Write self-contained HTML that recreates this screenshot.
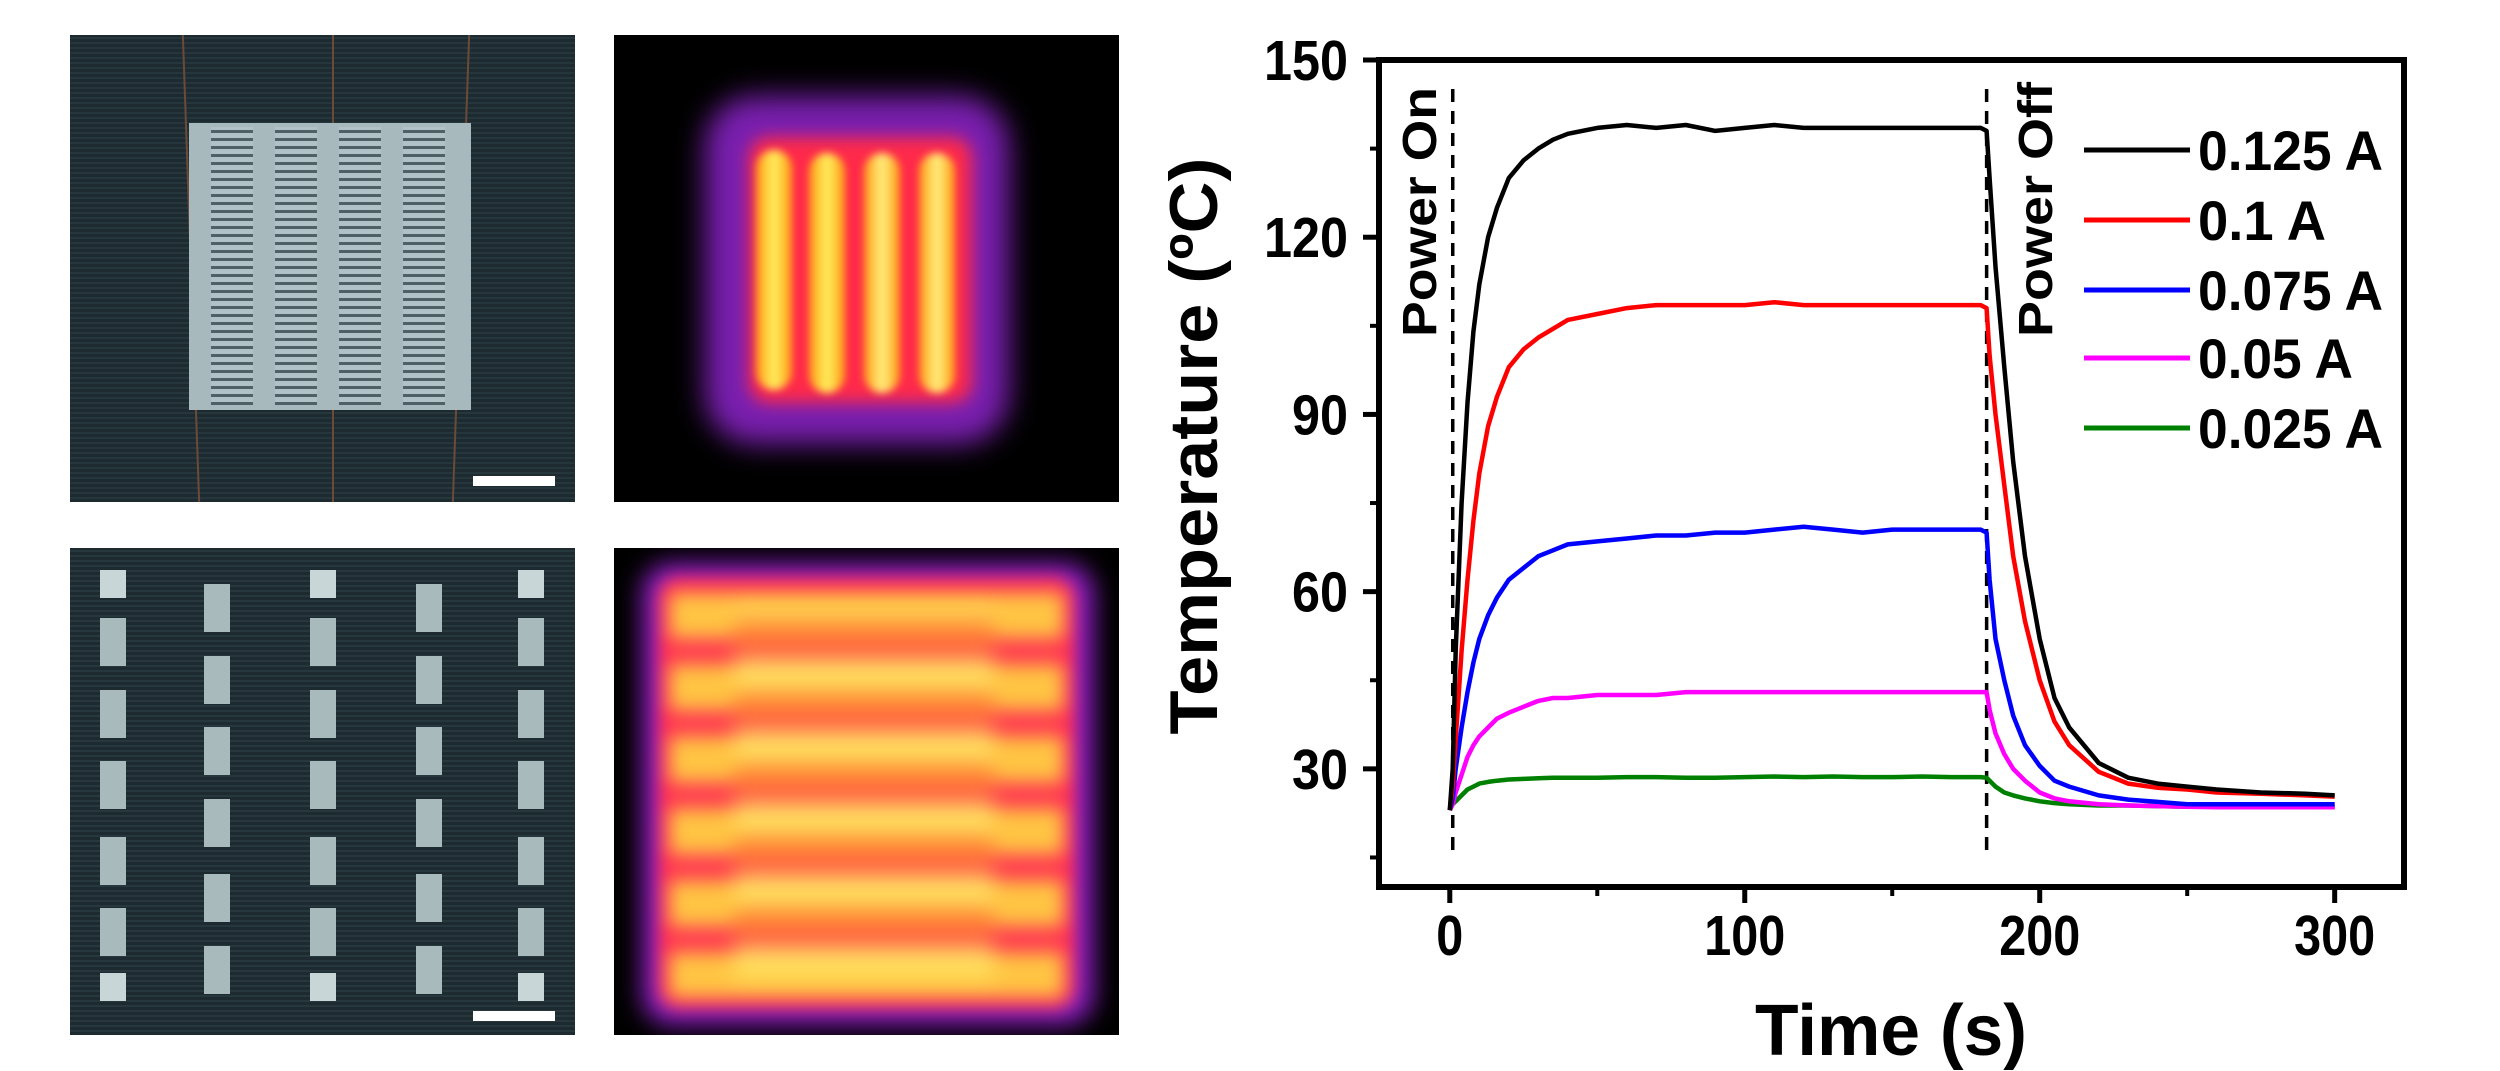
<!DOCTYPE html>
<html><head><meta charset="utf-8">
<style>
html,body{margin:0;padding:0;background:#fff;}
body{width:2500px;height:1071px;position:relative;overflow:hidden;font-family:"Liberation Sans",sans-serif;}
.panel{position:absolute;overflow:hidden;}
</style></head>
<body>
<div class="panel" style="left:70px;top:35px;width:505px;height:467px;background:repeating-linear-gradient(0deg,#1d2b31 0 3px,#26363d 3px 5px);">
  <div style="position:absolute;left:120px;top:0;width:2px;height:467px;background:#6b4a38;transform:rotate(-2deg);"></div>
  <div style="position:absolute;left:262px;top:0;width:2px;height:467px;background:#6b4a38;"></div>
  <div style="position:absolute;left:390px;top:0;width:2px;height:467px;background:#6b4a38;transform:rotate(2deg);"></div>
  <div style="position:absolute;left:119px;top:88px;width:282px;height:287px;background:#a7b9bd;">
    <div style="position:absolute;left:22px;top:4px;width:42px;height:278px;background:repeating-linear-gradient(0deg,#3b4a50 0 3px,#b3c4c8 3px 8px);opacity:.8"></div>
    <div style="position:absolute;left:86px;top:4px;width:42px;height:278px;background:repeating-linear-gradient(0deg,#3b4a50 0 3px,#b3c4c8 3px 8px);opacity:.8"></div>
    <div style="position:absolute;left:150px;top:4px;width:42px;height:278px;background:repeating-linear-gradient(0deg,#3b4a50 0 3px,#b3c4c8 3px 8px);opacity:.8"></div>
    <div style="position:absolute;left:214px;top:4px;width:42px;height:278px;background:repeating-linear-gradient(0deg,#3b4a50 0 3px,#b3c4c8 3px 8px);opacity:.8"></div>
  </div>
  <div style="position:absolute;left:403px;top:441px;width:82px;height:10px;background:#fff;"></div>
</div>

<div class="panel" style="left:614px;top:35px;width:505px;height:467px;background:#000;">
  <div style="position:absolute;left:91px;top:61px;width:304px;height:348px;border-radius:50px;background:#7a1fb0;filter:blur(14px);"></div>
  <div style="position:absolute;left:135px;top:102px;width:223px;height:266px;border-radius:20px;background:#ff2a4a;filter:blur(8px);"></div>
  <div style="position:absolute;left:142px;top:115px;width:36px;height:240px;border-radius:18px;background:linear-gradient(90deg,#ff9a10,#fff060,#ff9a10);filter:blur(4px);"></div>
  <div style="position:absolute;left:195px;top:118px;width:36px;height:240px;border-radius:18px;background:linear-gradient(90deg,#ff9a10,#fff060,#ff9a10);filter:blur(4px);"></div>
  <div style="position:absolute;left:250px;top:118px;width:36px;height:240px;border-radius:18px;background:linear-gradient(90deg,#ff9a10,#fff080,#ff9a10);filter:blur(4px);"></div>
  <div style="position:absolute;left:305px;top:118px;width:36px;height:240px;border-radius:18px;background:linear-gradient(90deg,#ff9a10,#fff080,#ff9a10);filter:blur(4px);"></div>
</div>

<div class="panel" id="bl" style="left:70px;top:548px;width:505px;height:487px;background:repeating-linear-gradient(0deg,#1d2b31 0 3px,#27373e 3px 5px);">
  <div style="position:absolute;left:403px;top:463px;width:82px;height:10px;background:#fff;"></div>
</div>

<div class="panel" style="left:614px;top:548px;width:505px;height:487px;background:#000;">
  <div style="position:absolute;left:28px;top:15px;width:452px;height:462px;border-radius:30px;background:#8a1fc0;filter:blur(12px);"></div>
  <div style="position:absolute;left:45px;top:30px;width:415px;height:430px;border-radius:20px;background:#ff2a55;filter:blur(8px);"></div>
  <div style="position:absolute;left:55px;top:40px;width:395px;height:410px;background:repeating-linear-gradient(0deg,#ffe040 0 45px,#ff4050 45px 72px);filter:blur(9px);opacity:.85"></div>
  <div style="position:absolute;left:120px;top:60px;width:260px;height:370px;background:repeating-linear-gradient(0deg,#fff070 0 35px,#ff7030 35px 72px);filter:blur(10px);opacity:.6"></div>
</div>

<svg id="chart" width="2500" height="1071" style="position:absolute;left:0;top:0;" xmlns="http://www.w3.org/2000/svg"></svg>

<script>
const times   = [0,1,2,4,6,8,10,13,16,20,25,30,35,40,50,60,70,80,90,100,110,120,130,140,150,160,170,180,182,183,185,188,191,195,200,205,210,220,230,240,250,260,275,290,300];
const s0125   = [23,30,50,75,92,104,112,120,125,130,133,135,136.5,137.5,138.5,139,138.5,139,138,138.5,139,138.5,138.5,138.5,138.5,138.5,138.5,138.5,138,130,115,98,82,66,52,42,37,31,28.5,27.5,27,26.5,26,25.8,25.5];
const s0100   = [23,27,35,50,62,72,80,88,93,98,101,103,104.5,106,107,108,108.5,108.5,108.5,108.5,109,108.5,108.5,108.5,108.5,108.5,108.5,108.5,108,100,90,78,66,55,45,38,34,29.5,27.5,26.8,26.5,26,25.8,25.5,25.3];
const s0075   = [23,25,30,37,43,48,52,56,59,62,64,66,67,68,68.5,69,69.5,69.5,70,70,70.5,71,70.5,70,70.5,70.5,70.5,70.5,70,62,52,45,39,34,30.5,28,27,25.5,24.8,24.4,24,24,24,24,24];
const s0050   = [23,24,26,29,32,34,35.5,37,38.5,39.5,40.5,41.5,42,42,42.5,42.5,42.5,43,43,43,43,43,43,43,43,43,43,43,43,40,36,32.5,30,28,26,25,24.5,24,23.8,23.7,23.6,23.5,23.5,23.5,23.5];
const s0025   = [24,24,24.5,25.5,26.5,27,27.5,27.8,28,28.2,28.3,28.4,28.5,28.5,28.5,28.6,28.6,28.5,28.5,28.6,28.7,28.6,28.7,28.6,28.6,28.7,28.6,28.6,28.5,28,27,26,25.5,25,24.5,24.2,24,23.8,23.8,23.7,23.6,23.6,23.5,23.5,23.5];
const seriesLabels = ["0.125 A","0.1 A","0.075 A","0.05 A","0.025 A"];
const seriesColors = ["#000000","#ff0000","#0000ff","#ff00ff","#008000"];
const xTicks = [0,100,200,300];
const xMinor = [50,150,250];
const yTicks = [30,60,90,120,150];
const yMinor = [15,45,75,105,135];
const markerTimes = [1,182];

const NS="http://www.w3.org/2000/svg";
const svg=document.getElementById('chart');
const L=1379,R=2404,T=60,B=887;
const XMIN=-24,XMAX=323.5,YMIN=10,YMAX=150;
const X=v=>L+(v-XMIN)/(XMAX-XMIN)*(R-L);
const Y=v=>B-(v-YMIN)/(YMAX-YMIN)*(B-T);
function mk(tag,attrs,parent){const e=document.createElementNS(NS,tag);for(const k in attrs)e.setAttribute(k,attrs[k]);(parent||svg).appendChild(e);return e;}

markerTimes.forEach(t=>{
  const d=mk('line',{x1:X(t),x2:X(t),y1:89,y2:856,stroke:'#000','stroke-width':3.5,'stroke-dasharray':'13 9'});
  
  
});

const allSeries=[s0125,s0100,s0075,s0050,s0025];
for(let i=allSeries.length-1;i>=0;i--){
  const pts=times.map((t,j)=>X(t).toFixed(1)+','+Y(allSeries[i][j]).toFixed(1)).join(' ');
  const p=mk('polyline',{points:pts,fill:'none',stroke:seriesColors[i],'stroke-width':4.5,'stroke-linejoin':'round'});
  
  
}

const fr=mk('rect',{x:L,y:T,width:R-L,height:B-T,fill:'none',stroke:'#000','stroke-width':6});



xTicks.forEach(v=>{
  const t=mk('line',{x1:X(v),x2:X(v),y1:B,y2:B+16,stroke:'#000','stroke-width':5});
  
  
  const s=String(v);
  const tx=mk('text',{x:X(v),y:955,'text-anchor':'middle','font-size':57,'font-weight':'bold','font-family':'Liberation Sans, sans-serif',textLength:s.length*27,lengthAdjust:'spacingAndGlyphs'});
  tx.textContent=s;
  
  
});
xMinor.forEach(v=>{
  const t=mk('line',{x1:X(v),x2:X(v),y1:B,y2:B+9,stroke:'#000','stroke-width':4});
  
  
});
yTicks.forEach(v=>{
  const t=mk('line',{x1:L-16,x2:L,y1:Y(v),y2:Y(v),stroke:'#000','stroke-width':5});
  
  
  const s=String(v);
  const tx=mk('text',{x:1348,y:Y(v)+20,'text-anchor':'end','font-size':57,'font-weight':'bold','font-family':'Liberation Sans, sans-serif',textLength:s.length*28,lengthAdjust:'spacingAndGlyphs'});
  tx.textContent=s;
  
  
});
yMinor.forEach(v=>{
  const t=mk('line',{x1:L-9,x2:L,y1:Y(v),y2:Y(v),stroke:'#000','stroke-width':4});
  
  
});

const xt=mk('text',{x:1891,y:1055,'text-anchor':'middle','font-size':72,'font-weight':'bold','font-family':'Liberation Sans, sans-serif',textLength:272,lengthAdjust:'spacingAndGlyphs'});
xt.textContent='Time (s)';


const yt=mk('text',{x:0,y:0,'text-anchor':'middle','font-size':68,'font-weight':'bold','font-family':'Liberation Sans, sans-serif',textLength:577,lengthAdjust:'spacingAndGlyphs',transform:'translate(1217,446) rotate(-90)'});
yt.textContent='Temperature (ºC)';



[['Power On',1436,337,250],['Power Off',2052,337,255]].forEach(a=>{
  const t=mk('text',{x:0,y:0,'font-size':48,'font-weight':'bold','font-family':'Liberation Sans, sans-serif',textLength:a[3],lengthAdjust:'spacingAndGlyphs',transform:`translate(${a[1]},${a[2]}) rotate(-90)`});
  t.textContent=a[0];
  
  
});

const legY=[150,220,290,358,428];
const legW=[185,128,185,155,185];
seriesLabels.forEach((lab,i)=>{
  const ln=mk('line',{x1:2084,x2:2190,y1:legY[i],y2:legY[i],stroke:seriesColors[i],'stroke-width':5});
  
  
  const tx=mk('text',{x:2198,y:legY[i]+20,'font-size':56,'font-weight':'bold','font-family':'Liberation Sans, sans-serif',textLength:legW[i],lengthAdjust:'spacingAndGlyphs'});
  tx.textContent=lab;
  
  
});

const bl=document.getElementById('bl');
const colX=[43,147,253,359,461];
const oddRows=[36,94,166,237,313,384,439];
const evenRows=[60,132,203,275,350,422];
colX.forEach((cx,ci)=>{
  const rows=(ci%2===0)?oddRows:evenRows;
  rows.forEach((cy,ri)=>{
    const sq=(ci%2===0)&&(ri===0||ri===rows.length-1);
    const d=document.createElement('div');
    
    
    const w=26,h=sq?28:48;
    d.style.cssText=`position:absolute;left:${cx-w/2}px;top:${cy-h/2}px;width:${w}px;height:${h}px;background:${sq?'#c8d6d8':'#a9babd'};`;
    bl.appendChild(d);
  });
});
</script>
</body></html>
